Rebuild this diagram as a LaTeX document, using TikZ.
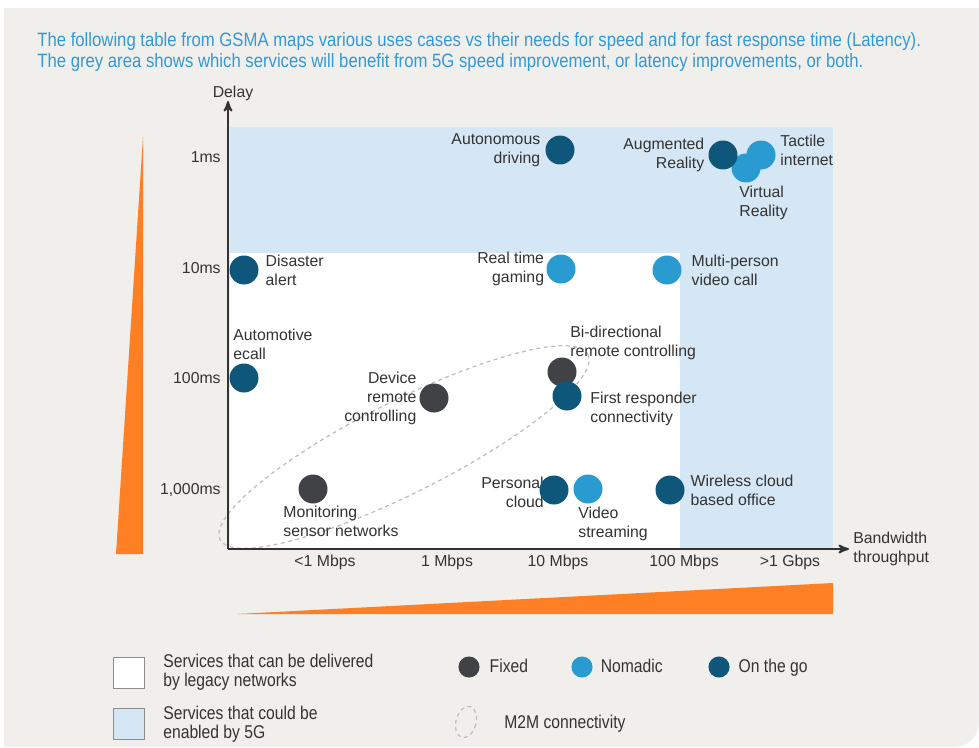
\documentclass[tikz,border=0pt]{standalone}
\usepackage{fontspec}
\setmainfont{Liberation Sans}
\newfontfamily\condfont[FakeStretch=0.85]{Liberation Sans}
\newfontfamily\titlefont[FakeStretch=0.865]{Liberation Sans}
\usepackage{tikz}
\usetikzlibrary{arrows,positioning}
\definecolor{panelgrey}{HTML}{F0EFEC}
\definecolor{zonefive}{HTML}{D5E7F4}
\definecolor{titleblue}{HTML}{3399D4}
\definecolor{fixedc}{HTML}{414246}
\definecolor{nomadicc}{HTML}{2A9BD0}
\definecolor{onthegoc}{HTML}{0E567A}
\definecolor{orangec}{HTML}{FF7F24}
\definecolor{textc}{HTML}{333333}
\definecolor{dashc}{HTML}{BDBDBD}
\tikzset{
    %Define standard arrow tip
    >=stealth',
    %Define style for the service dots
    dot/.style={
           circle,
           minimum size=16.5pt,
           inner sep=0pt},
    fixed/.style={dot, fill=fixedc},
    nomadic/.style={dot, fill=nomadicc},
    onthego/.style={dot, fill=onthegoc},
    legdot/.style={minimum size=12pt},
    %Define style for texts
    lbl/.style={
           font=\fontsize{9}{10.8}\selectfont,
           text=textc,
           align=left,
           inner sep=0pt},
    lblr/.style={lbl, align=right},
    tick/.style={
           font=\fontsize{9}{10.8}\selectfont,
           text=textc,
           inner sep=0pt},
    legtxt/.style={
           font=\condfont\fontsize{10.5}{10.8}\selectfont,
           text=textc,
           align=left,
           inner sep=0pt},
    legword/.style={legtxt, text height=1.6ex, text depth=0.45ex},
    titletxt/.style={
           font=\titlefont\fontsize{11}{11.4}\selectfont,
           text=titleblue,
           align=left,
           inner sep=0pt},
    legbox/.style={
           rectangle,
           draw=black!45, line width=0.5pt,
           minimum size=17.6pt,
           inner sep=0pt},
    % Define line styles
    axisline/.style={
           ->,
           line width=1.1pt,
           draw=textc},
    m2m/.style={
           draw=dashc,
           line width=0.7pt,
           dash pattern=on 2.2pt off 2pt}
}
\begin{document}
\begin{tikzpicture}[x=0.02cm,y=-0.02cm]
\useasboundingbox (0,0) rectangle (979,747);
 %background
\fill[white] (0,0) rectangle (979,747);
\fill[panelgrey] (4,8) -- (979,8) [rounded corners=14pt] -- (979,747) [sharp corners] -- (4,747) -- cycle;
\node[titletxt, anchor=west] (title) at (37,52) {The following table from GSMA maps various uses cases vs their needs for speed and for fast response time (Latency).\\The grey area shows which services will benefit from 5G speed improvement, or latency improvements, or both.};
 %areas
\fill[zonefive] (230,127) rectangle (833,548);
\fill[white] (230,253) rectangle (680,548);
\fill[orangec] (116,554) -- (143,554) -- (143,137) -- cycle;
\fill[orangec] (237,614) -- (833,614) -- (833,583) -- cycle;
 %m2m zone
\draw[m2m, rotate around={26.7:(404,447)}] (404,447) ellipse [x radius=206, y radius=46];
 %axes
\coordinate (origin) at (228,549);
\coordinate (ytip) at (228,101);
\coordinate (xtip) at (849,549);
\draw[axisline] (origin) -- (ytip);
\draw[axisline] (origin) -- (xtip);
\node[tick] (delay) at (233,93) {Delay};
\node[tick, align=left, anchor=west] (bw) at (853,549) {Bandwidth\\throughput};
\node[tick, anchor=east] (t1ms) at (221,157) {1ms};
\node[tick, anchor=east] (t10ms) at (221,268) {10ms};
\node[tick, anchor=east] (t100ms) at (221,378) {100ms};
\node[tick, anchor=east] (t1000ms) at (221,490) {1,000ms};
\node[tick] (tlt1) at (325,562) {<1 Mbps};
\node[tick] (t1m) at (447,562) {1 Mbps};
\node[tick] (t10m) at (558,562) {10 Mbps};
\node[tick] (t100m) at (684,562) {100 Mbps};
\node[tick] (t1g) at (790,562) {>1 Gbps};
 %services
\node[onthego] (dis) at (244,270) {};
\node[lbl, right=3.7pt of dis] (dislbl) {Disaster\\alert};
\node[onthego] (ecall) at (244,378) {};
\node[lbl, anchor=west] (ecalllbl) at (233,344) {Automotive\\ecall};
\node[fixed] (dev) at (434,398) {};
\node[lblr, left=1.4pt of dev] (devlbl) {Device\\remote\\controlling};
\node[fixed] (mon) at (313,489) {};
\node[lbl, anchor=west] (monlbl) at (283,521) {Monitoring\\sensor networks};
\node[onthego] (auto) at (560,150) {};
\node[lblr, left=2.6pt of auto] (autolbl) {Autonomous\\driving};
\node[nomadic] (vr) at (746,168) {};
\node[nomadic] (tac) at (761,155) {};
\node[onthego] (ar) at (723,155) {};
\node[lblr, left=2pt of ar] (arlbl) {Augmented\\Reality};
\node[lbl, anchor=west] (vrlbl) at (739,203) {Virtual\\Reality};
\node[lbl, anchor=west] (taclbl) at (780,150) {Tactile\\internet};
\node[nomadic] (rtg) at (561,269) {};
\node[lblr, left=1pt of rtg] (rtglbl) {Real time\\gaming};
\node[nomadic] (mpv) at (667,270) {};
\node[lbl, right=5.4pt of mpv] (mpvlbl) {Multi-person\\video call};
\node[fixed] (bdr) at (562,372) {};
\node[lbl, anchor=west] (bdrlbl) at (570,343) {Bi-directional\\remote controlling};
\node[onthego] (frc) at (567,396) {};
\node[lbl, anchor=west] (frclbl) at (590,409) {First responder\\connectivity};
\node[lblr, anchor=east] (pclbl) at (544,492) {Personal\\cloud};
\node[onthego] (pc) at (554,490) {};
\node[nomadic] (vs) at (588,489) {};
\node[lbl, anchor=west] (vslbl) at (578,524) {Video\\streaming};
\node[onthego] (wco) at (670,490) {};
\node[lbl, right=3.1pt of wco] (wcolbl) {Wireless cloud\\based office};
 %legend
\node[legbox, fill=white] (legwhite) at (128.5,673) {};
\node[legtxt, anchor=west] (legwhitetxt) at (163,672) {Services that can be delivered\\by legacy networks};
\node[legbox, fill=zonefive] (legblue) at (128.5,723.5) {};
\node[legtxt, anchor=west] (legbluetxt) at (163,724) {Services that could be\\enabled by 5G};
\node[fixed, legdot] (legfixed) at (469,667) {};
\node[legword, right=5.4pt of legfixed] (legfixedtxt) {Fixed};
\node[nomadic, legdot] (legnomadic) at (582,667) {};
\node[legword, right=4.3pt of legnomadic] (legnomadictxt) {Nomadic};
\node[onthego, legdot] (legonthego) at (719,667) {};
\node[legword, right=4.8pt of legonthego] (legonthegotxt) {On the go};
\draw[m2m, rotate around={-15:(466,722)}] (466,722) ellipse [x radius=10, y radius=16];
\node[legword, anchor=west] (legm2mtxt) at (504,723) {M2M connectivity};
\end{tikzpicture}
\end{document}
